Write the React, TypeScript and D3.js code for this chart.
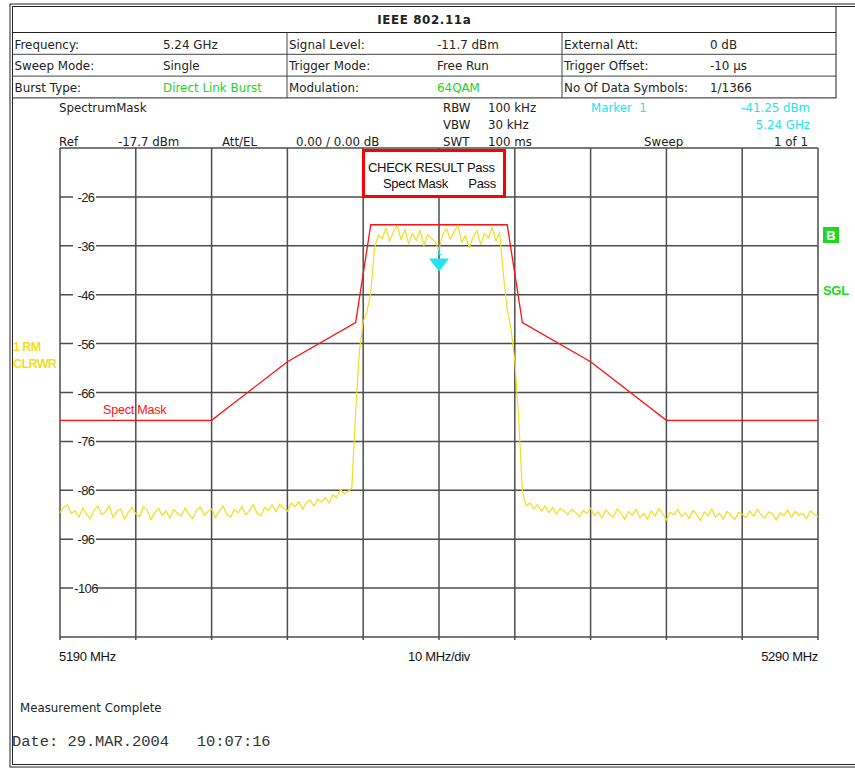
import React from "react";
import * as d3 from "d3";

// --- header table ---
const titleText = "IEEE 802.11a";
const headerLabels = [
  ["Frequency:", "Signal Level:", "External Att:"],
  ["Sweep Mode:", "Trigger Mode:", "Trigger Offset:"],
  ["Burst Type:", "Modulation:", "No Of Data Symbols:"],
];
const headerValues = [
  ["5.24 GHz", "-11.7 dBm", "0 dB"],
  ["Single", "Free Run", "-10 µs"],
  ["Direct Link Burst", "64QAM", "1/1366"],
];
const greenValues = ["Direct Link Burst", "64QAM"];

// --- axes ---
const freqStartMHz = 5190;
const freqStopMHz = 5290;
const freqGrid = d3.range(5190, 5291, 10);
const levelTicks = [-26, -36, -46, -56, -66, -76, -86, -96, -106];
const levelTop = -16;
const levelBottom = -116;

// --- spectrum mask (red) ---
const maskFreqs = [5190, 5210, 5220, 5229, 5231, 5249, 5251, 5260, 5270, 5290];
const maskLevels = [-71.7, -71.7, -59.7, -51.7, -31.7, -31.7, -51.7, -59.7, -71.7, -71.7];

// --- trace 1 (yellow), 0.5 MHz per point starting at 5190 MHz ---
const traceStepMHz = 0.5;
const traceDbm = [
  -90.6, -89.4, -89.0, -90.8, -90.2, -91.5, -89.6, -90.9, -91.8, -90.1,
  -89.2, -91.0, -90.4, -89.1, -91.6, -90.3, -89.8, -91.9, -90.5, -89.5,
  -90.8, -91.4, -89.3, -90.0, -92.0, -90.6, -89.7, -91.2, -90.2, -91.7,
  -89.9, -90.7, -91.3, -89.6, -90.9, -91.8, -90.1, -89.4, -91.1, -90.4,
  -89.8, -91.6, -90.3, -89.2, -90.9, -91.5, -89.9, -90.6, -89.3, -91.0,
  -90.2, -88.9, -90.7, -91.2, -89.5, -90.1, -89.0, -90.4, -88.8, -89.7,
  -90.3, -88.6, -89.4, -88.3, -89.9, -88.5, -88.0, -89.2, -87.8, -88.4,
  -87.5, -88.6, -86.9, -87.6, -85.8, -86.8,
  -86.2, -85.5, -70.0, -57.5, -51.5, -49.5, -45.5, -36.5,
  -33.8, -34.6, -32.4, -35.1, -33.0, -31.9, -34.8, -32.6, -35.6, -33.4,
  -34.9, -32.8, -36.0, -33.7, -34.5, -35.2, -36.8, -33.6, -32.5, -34.7,
  -33.1, -31.8, -35.3, -33.9, -36.4, -34.2, -32.9, -35.7, -33.5, -34.4,
  -32.2, -35.0, -33.3, -42.0,
  -49.0, -53.0, -59.5, -71.0, -86.0, -89.2,
  -88.6, -89.8, -88.9, -90.3, -89.2, -90.6, -89.5, -90.9, -89.7, -90.2,
  -91.0, -89.9, -90.5, -91.4, -90.1, -90.8, -89.6, -91.2, -90.4, -91.7,
  -90.0, -90.9, -91.5, -89.8, -90.6, -92.0, -90.3, -91.1, -89.9, -91.6,
  -90.7, -91.9, -90.2, -91.3, -89.7, -90.8, -92.1, -90.5, -91.0, -89.9,
  -91.4, -90.6, -91.8, -90.1, -90.9, -92.2, -90.4, -91.2, -89.8, -91.5,
  -90.7, -91.9, -90.3, -91.1, -92.0, -90.5, -90.9, -91.6, -90.2, -91.3,
  -89.9, -91.0, -91.7, -90.4, -90.8, -92.1, -90.6, -91.2, -90.0, -91.5,
  -90.3, -91.1, -90.7, -91.8, -90.2, -90.9, -91.4,
];

// marker 1
const markerFreqMHz = 5240;
const markerDbm = -41.25;

const W = 855;
const H = 770;
const plot = { left: 60, right: 818, top: 148, bottom: 637 };

const sans = "'DejaVu Sans', Verdana, sans-serif";
const arial = "'Liberation Sans', Arial, sans-serif";
const mono = "'Liberation Mono', 'Courier New', monospace";
const yellow = "#f2de1c";
const cyan = "#22e4ee";
const green = "#22d622";
const gridColor = "#4d4d4d";

export default function App() {
  const x = d3.scaleLinear().domain([freqStartMHz, freqStopMHz]).range([plot.left, plot.right]);
  const y = d3.scaleLinear().domain([levelBottom, levelTop]).range([plot.bottom, plot.top]);

  const maskPath = d3
    .line<number>()
    .x((_, i) => x(maskFreqs[i]))
    .y((d) => y(d))(maskLevels);

  const tracePath = d3
    .line<number>()
    .x((_, i) => x(freqStartMHz + i * traceStepMHz))
    .y((d) => y(d))(traceDbm);

  // header table geometry
  const tL = 12.5, tR = 836, tTop = 6.5, titleBottom = 32.5, rowH = 21.8;
  const colX = [12.5, 287, 562];
  const valX = [163, 437, 710];

  const mx = x(markerFreqMHz);
  const my = y(markerDbm);

  return (
    <svg
      width={W}
      height={H}
      viewBox={`0 0 ${W} ${H}`}
      style={{ position: "absolute", left: 0, top: 0, background: "#fff" }}
    >
      <rect width={W} height={H} fill="#fff" />

      {/* outer double frame */}
      <rect x={10} y={4} width={900} height={763} fill="none" stroke="#222" strokeWidth={1} />
      <rect x={12.5} y={6.5} width={900} height={758} fill="none" stroke="#222" strokeWidth={1} />

      {/* header table */}
      <g fontFamily={sans} fontSize={11.9} fill="#222">
        <rect x={tL} y={tTop} width={tR - tL} height={titleBottom + rowH * 3 - tTop} fill="none" stroke="#222" />
        <line x1={tL} x2={tR} y1={titleBottom} y2={titleBottom} stroke="#222" />
        {[1, 2].map((r) => (
          <line key={r} x1={tL} x2={tR} y1={titleBottom + rowH * r} y2={titleBottom + rowH * r} stroke="#444" />
        ))}
        {[colX[1], colX[2]].map((cx) => (
          <line key={cx} x1={cx} x2={cx} y1={titleBottom} y2={titleBottom + rowH * 3} stroke="#444" />
        ))}
        <text x={(tL + tR) / 2} y={24} textAnchor="middle" fontWeight="bold" letterSpacing={0.6}>
          {titleText}
        </text>
        {headerLabels.map((row, r) =>
          row.map((lab, c) => (
            <text key={`l${r}${c}`} x={colX[c] + 2} y={titleBottom + rowH * r + 16}>
              {lab}
            </text>
          ))
        )}
        {headerValues.map((row, r) =>
          row.map((v, c) => (
            <text
              key={`v${r}${c}`}
              x={valX[c]}
              y={titleBottom + rowH * r + 16}
              fill={greenValues.includes(v) ? green : "#222"}
            >
              {v}
            </text>
          ))
        )}
      </g>

      {/* instrument settings */}
      <g fontFamily={sans} fontSize={11.8} fill="#222">
        <text x={59} y={112}>SpectrumMask</text>
        <text x={59} y={146}>Ref</text>
        <text x={118} y={146}>-17.7 dBm</text>
        <text x={222} y={146}>Att/EL</text>
        <text x={296} y={146}>0.00 / 0.00 dB</text>
        <text x={443} y={112}>RBW</text>
        <text x={488} y={112}>100 kHz</text>
        <text x={443} y={129}>VBW</text>
        <text x={488} y={129}>30 kHz</text>
        <text x={443} y={146}>SWT</text>
        <text x={488} y={146}>100 ms</text>
        <text x={591} y={112} fill={cyan}>Marker&#160;&#160;1</text>
        <text x={810} y={112} fill={cyan} textAnchor="end">-41.25 dBm</text>
        <text x={810} y={129} fill={cyan} textAnchor="end">5.24 GHz</text>
        <text x={644} y={146}>Sweep</text>
        <text x={808} y={146} textAnchor="end">1 of 1</text>
      </g>

      {/* grid */}
      <g stroke={gridColor} strokeWidth={1.5}>
        {freqGrid.map((f) => (
          <line key={f} x1={x(f)} x2={x(f)} y1={plot.top} y2={plot.bottom + 3} />
        ))}
        {levelTicks.map((l) => (
          <line key={l} x1={plot.left} x2={plot.right} y1={y(l)} y2={y(l)} />
        ))}
        <line x1={plot.left} x2={plot.right} y1={plot.top} y2={plot.top} />
        <line x1={plot.left} x2={plot.right} y1={plot.bottom} y2={plot.bottom} />
      </g>

      {/* level tick labels */}
      <g fontFamily={arial} fontSize={13} fill="#222" letterSpacing={-0.6}>
        {levelTicks.map((l) => (
          <g key={l}>
            <rect x={73} y={y(l) - 7} width={23} height={14} fill="#fff" />
            <text x={86} y={y(l) + 5} textAnchor="middle">
              {l}
            </text>
          </g>
        ))}
      </g>

      {/* mask + trace */}
      <path d={maskPath ?? ""} fill="none" stroke="#ff1010" strokeWidth={1.3} />
      <path d={tracePath ?? ""} fill="none" stroke={yellow} strokeWidth={1.2} strokeLinejoin="round" />

      <text x={103} y={414} fontFamily={arial} fontSize={12.5} letterSpacing={-0.2} fill="#ff1010">
        Spect Mask
      </text>

      {/* marker */}
      <text x={mx} y={255} fontFamily={arial} fontSize={11} fill={cyan} textAnchor="middle">
        1
      </text>
      <path
        d={`M${mx - 10},${my - 13} L${mx + 10},${my - 13} L${mx},${my} Z`}
        fill={cyan}
      />

      {/* check result box */}
      <rect x={363.5} y={150.5} width={141} height={46} fill="#fff" stroke="#ff0000" strokeWidth={3} />
      <g fontFamily={arial} fontSize={13} fill="#111" letterSpacing={-0.3}>
        <text x={368} y={172}>CHECK RESULT Pass</text>
        <text x={383} y={188}>Spect Mask</text>
        <text x={496} y={188} textAnchor="end">Pass</text>
      </g>

      {/* side labels */}
      <g fontFamily={arial} fontSize={12.5} fontWeight="bold" letterSpacing={-0.6} fill={yellow}>
        <text x={13} y={351}>1 RM</text>
        <text x={13} y={368}>CLRWR</text>
      </g>
      <rect x={823} y={227} width={16} height={16} fill={green} />
      <text x={831} y={240} fontFamily={arial} fontSize={13} fontWeight="bold" fill="#fff" textAnchor="middle">
        B
      </text>
      <text x={823} y={295} fontFamily={arial} fontSize={13} fontWeight="bold" fill={green} letterSpacing={-0.3}>
        SGL
      </text>

      {/* frequency labels */}
      <g fontFamily={arial} fontSize={13} fill="#111" letterSpacing={-0.3}>
        <text x={59} y={661}>5190 MHz</text>
        <text x={x(5240)} y={661} textAnchor="middle">10 MHz/div</text>
        <text x={plot.right} y={661} textAnchor="end">5290 MHz</text>
      </g>

      <text x={20} y={712} fontFamily={sans} fontSize={11.8} fill="#222">
        Measurement Complete
      </text>
      <text x={12} y={746} fontFamily={mono} fontSize={15.4} fill="#333" xmlSpace="preserve">
        {"Date: 29.MAR.2004   10:07:16"}
      </text>
    </svg>
  );
}
